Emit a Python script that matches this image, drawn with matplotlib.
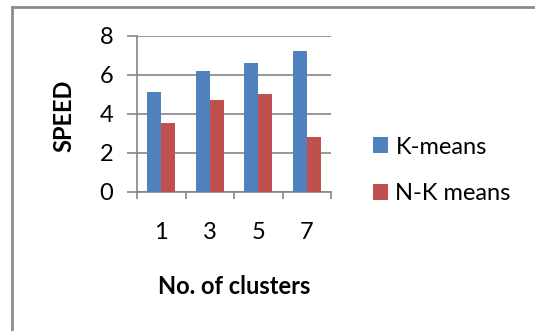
import matplotlib.pyplot as plt
import matplotlib.lines as mlines
import numpy as np

plt.rcParams['font.family'] = ['Lato', 'DejaVu Sans']

clusters = ['1', '3', '5', '7']
kmeans = [5.1, 6.2, 6.6, 7.2]
nk_means = [3.5, 4.7, 5.0, 2.8]
yticks = [0, 2, 4, 6, 8]

blue = '#4F81BD'
red = '#C0504D'
gray = '#868686'
fs = 17

fig = plt.figure(figsize=(5.35, 3.31), dpi=100)
ax = fig.add_axes([137/535, 1 - 191.7/331, 194/535, 156/331])

x = np.arange(len(clusters))
w = 0.29
ax.bar(x - w/2, kmeans, w, color=blue, label='K-means', zorder=3)
ax.bar(x + w/2, nk_means, w, color=red, label='N-K means', zorder=3)

ax.set_xlim(-0.5, len(clusters) - 0.5)
ax.set_ylim(0, 8)
ax.set_yticks(yticks)
ax.yaxis.grid(True, color=gray, linewidth=1.2, zorder=0)
ax.set_xticks(x)
ax.set_xticklabels(clusters)
ax.set_xticks(np.arange(len(clusters) + 1) - 0.5, minor=True)

ax.tick_params(axis='y', length=7, width=1.2, color=gray, labelsize=fs, pad=10)
ax.tick_params(axis='x', which='major', length=0, labelsize=fs, pad=22)
ax.tick_params(axis='x', which='minor', length=5, width=1.2, color=gray, direction='out')

for side in ['top', 'right']:
    ax.spines[side].set_visible(False)
for side in ['left', 'bottom']:
    ax.spines[side].set_color(gray)
    ax.spines[side].set_linewidth(1.2)

fig.text(64/535, 1 - 115.5/331, 'SPEED', rotation=90, fontsize=fs, fontweight='bold',
         ha='center', va='center')
fig.text(234/535, 1 - 286.5/331, 'No. of clusters', fontsize=fs, fontweight='bold',
         ha='center', va='center')

fig.legend(loc='center left', bbox_to_anchor=(373/535, 1 - 170.5/331), frameon=False,
           fontsize=fs, handlelength=0.65, handleheight=0.65, handletextpad=0.3,
           labelspacing=1.1, borderpad=0, borderaxespad=0)

# outer chart border (left and top edges visible)
fig.add_artist(mlines.Line2D([12/535, 12/535], [0, 1 - 7/331], color='#8C8C8C', linewidth=2,
                             transform=fig.transFigure))
fig.add_artist(mlines.Line2D([12/535, 1], [1 - 7/331, 1 - 7/331], color='#8C8C8C', linewidth=2,
                             transform=fig.transFigure))

fig.savefig('out.png', dpi=100)
